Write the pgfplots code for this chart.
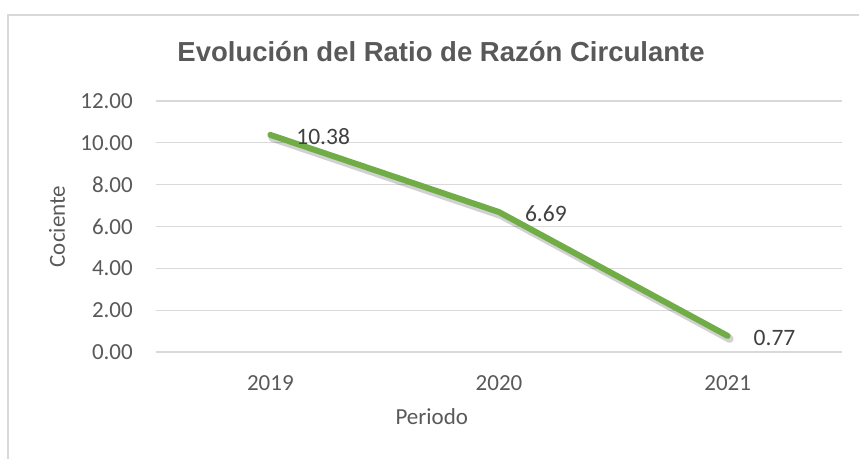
\documentclass[border=0pt]{standalone}
\usepackage{pgfplots}
\pgfplotsset{compat=1.18}
\usepackage{fontspec}
\setmainfont{Carlito}
\newfontfamily\titlefont{Liberation Sans}
\definecolor{linegreen}{HTML}{70AD47}
\definecolor{gridgray}{HTML}{D9D9D9}
\definecolor{txtgray}{HTML}{595959}
\definecolor{lblgray}{HTML}{404040}
\begin{document}
\begin{tikzpicture}[x=1bp,y=1bp]
\path[use as bounding box] (0,0) rectangle (859,459);
\draw[gridgray, line width=1.5bp] (8,0) -- (8,444) -- (859,444);
\node[txtgray, font=\titlefont\bfseries\fontsize{27.5bp}{33bp}\selectfont] at (441,407) {Evolución del Ratio de Razón Circulante};
\begin{axis}[
  at={(156bp,107bp)}, anchor=south west,
  scale only axis, width=686bp, height=251bp,
  xmin=-0.5, xmax=2.5, ymin=0, ymax=12,
  xtick={0,1,2}, xticklabels={2019,2020,2021},
  ytick={0,2,4,6,8,10,12},
  ymajorgrids, major grid style={gridgray, line width=1.3bp},
  axis line style={draw=none}, major tick length=0pt,
  /pgf/number format/assume math mode=true,
  yticklabel style={/pgf/number format/.cd, fixed, fixed zerofill, precision=2, /tikz/.cd,
    anchor=east, inner sep=0pt, xshift=-23bp, text=txtgray, font=\fontsize{23bp}{27bp}\selectfont},
  xticklabel style={anchor=north, inner sep=0pt, yshift=-23bp, text=txtgray, font=\fontsize{23bp}{27bp}\selectfont},
  xlabel={Periodo}, ylabel={Cociente},
  xlabel style={at={(axis description cs:0.402,0)}, anchor=center, yshift=-65bp, text=txtgray, font=\fontsize{23bp}{27bp}\selectfont},
  ylabel style={at={(axis description cs:-0.1443,0.5)}, anchor=center, rotate=0, text=txtgray, font=\fontsize{23bp}{27bp}\selectfont},
  clip=false,
]
\addplot[black, opacity=0.18, line width=8bp, line join=round, line cap=round, shift={(2bp,-3bp)}] coordinates {(0,10.38) (1,6.69) (2,0.77)};
\addplot[linegreen, line width=6bp, line join=round, line cap=round,
  nodes near coords, point meta=explicit,
  nodes near coords style={/pgf/number format/.cd, fixed, fixed zerofill, precision=2, /tikz/.cd,
    anchor=west, inner sep=0pt, xshift=23bp, yshift=-2bp, text=lblgray, font=\fontsize{23.5bp}{28bp}\selectfont}]
  coordinates {(0,10.38) [10.38] (1,6.69) [6.69] (2,0.77) [0.77]};
\end{axis}
\end{tikzpicture}
\end{document}
